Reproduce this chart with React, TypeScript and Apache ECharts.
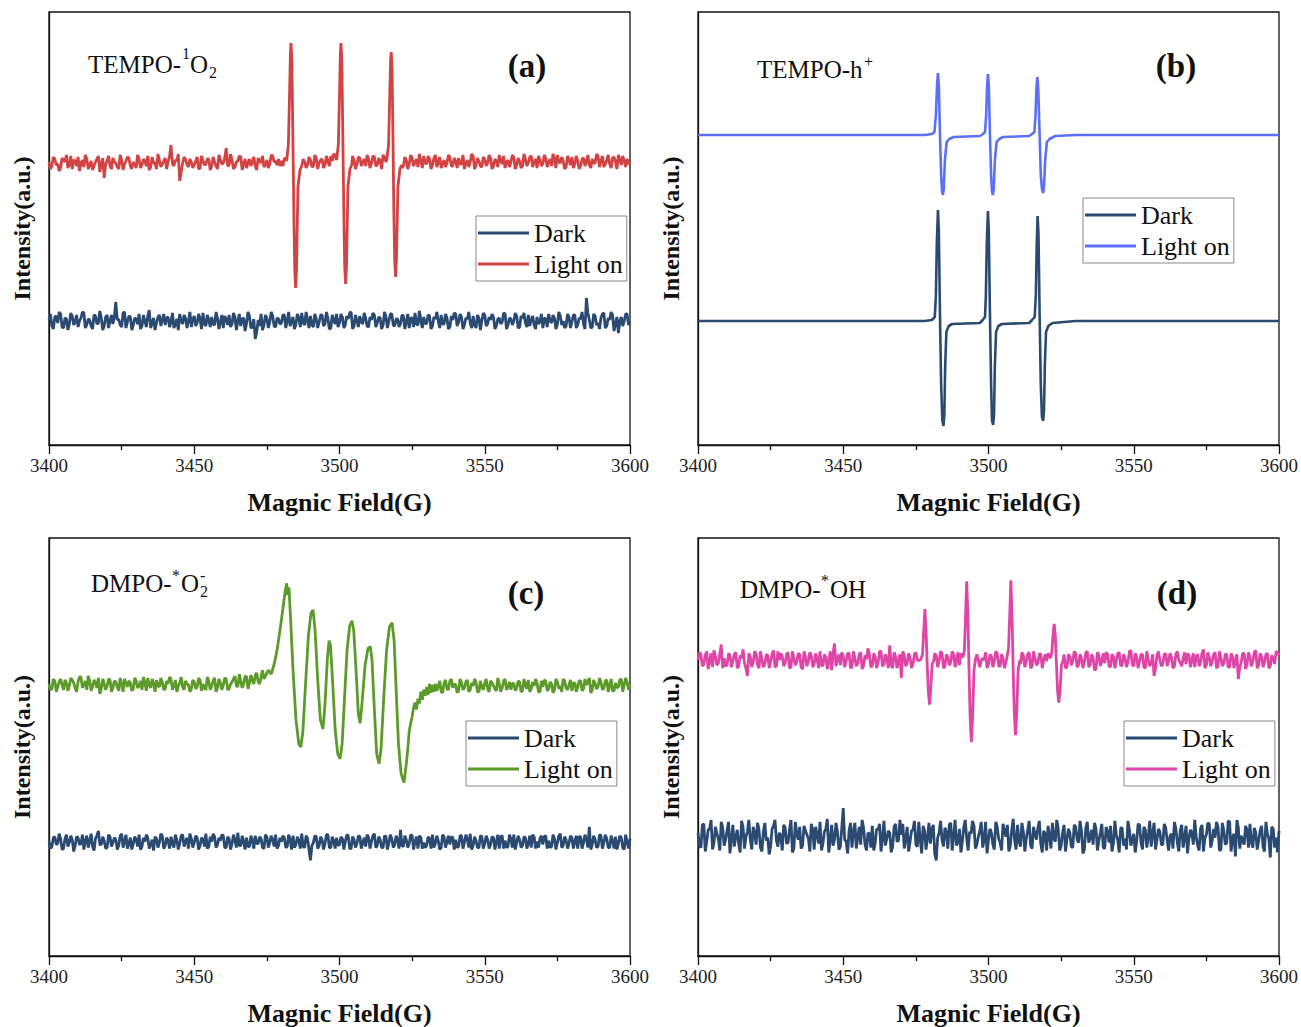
import React, { useEffect, useRef } from 'react';
import * as echarts from 'echarts';

// ---------- axis ----------
const FIELD_MIN = 3400;
const FIELD_MAX = 3600;
const FIELD_TICK = 50;
const X_NAME = 'Magnic Field(G)';
const Y_NAME = 'Intensity(a.u.)';
const LEGEND_NAMES = ['Dark', 'Light on'];
const PANEL_LABELS = ['(a)', '(b)', '(c)', '(d)'];

// ---------- panel (a) TEMPO-1O2 ----------
// noise read at whole-gauss positions from 3400
const aLightNoise = [
  283, 279, 286, 281, 277, 285, 290, 280, 276, 284,
  288, 282, 278, 286, 280, 275, 283, 289, 281, 267,
  284, 279, 287, 282, 276, 285, 281, 288, 279, 283,
  277, 286, 280, 284, 289, 278, 282, 276, 285, 281,
  287, 283, 300, 279, 284, 264, 282, 286, 278, 283,
  280, 288, 277, 284, 281, 286, 279, 283, 276, 285,
  282, 297, 280, 285, 278, 284, 288, 281, 277, 286,
  283, 279, 287, 282, 278, 285, 281, 289, 284, 286,
  284, 286, 282, 283, 282, 282, 282, 276, 283, 280,
  285, 279, 287, 282, 286, 280, 284, 289, 291, 286,
  282, 282, 282, 282, 278, 285, 281, 287, 283, 279,
  286, 282, 288, 280, 284, 290, 283, 282, 282, 282,
  282, 282, 279, 285, 281, 287, 283, 278, 284, 289,
  281, 286, 280, 290, 283, 277, 285, 282, 288, 279,
  284, 287, 281, 276, 285, 283, 289, 280, 284, 278,
  286, 282, 287, 279, 284, 290, 281, 277, 285, 283,
  288, 280, 284, 279, 286, 282, 289, 283, 277, 285,
  281, 287, 283, 279, 286, 290, 282, 284, 278, 285,
  288, 281, 284, 279, 287, 283, 280, 286, 282, 289,
  284, 278, 285, 281, 287, 283, 290, 280, 284, 286,
  283,
];
// noise read at half-gauss positions from 3400.5
const aLightNoiseHalf = [
  276, 288, 280, 274, 287, 283, 277, 289, 285, 279,
  274, 285, 290, 276, 284, 279, 286, 273, 287, 281,
  289, 276, 283, 278, 290, 275, 284, 287, 276, 281,
  290, 277, 286, 279, 275, 288, 282, 291, 278, 284,
  276, 289, 281, 285, 291, 273, 288, 280, 286, 277,
  284, 276, 289, 280, 286, 275, 288, 279, 290, 281,
  287, 279, 291, 276, 283, 289, 275, 286, 282, 279,
  288, 275, 284, 289, 280, 277, 290, 283, 280, 279,
  279, 287, 283, 283, 283, 283, 283, 286, 277, 288,
  278, 290, 276, 285, 277, 289, 279, 284, 290, 283,
  282, 282, 282, 282, 289, 276, 288, 279, 286, 290,
  277, 289, 279, 287, 276, 288, 283, 283, 283, 283,
  283, 277, 288, 276, 290, 279, 286, 291, 277, 282,
  289, 276, 287, 278, 288, 282, 278, 290, 279, 287,
  277, 281, 290, 282, 278, 291, 276, 287, 279, 288,
  279, 290, 276, 286, 278, 284, 289, 283, 278, 290,
  276, 287, 277, 291, 279, 288, 278, 286, 289, 279,
  290, 278, 286, 291, 277, 283, 288, 276, 289, 280,
  277, 289, 276, 286, 279, 290, 277, 282, 291, 278,
  289, 281, 290, 277, 288, 276, 285, 289, 278, 281,
];
const aLightPeak1: [number, number][] = [
  [3481.8, 284], [3482.4, 300], [3482.8, 350], [3483.1, 392], [3483.3, 402], [3483.6, 385],
  [3483.9, 320], [3484.3, 230], [3484.6, 175], [3484.9, 157], [3485.2, 175], [3485.7, 258],
  [3486.4, 275], [3487.0, 279],
];
const aLightPeak2: [number, number][] = [
  [3499.0, 285], [3499.6, 300], [3500.0, 350], [3500.3, 392], [3500.5, 402], [3500.8, 385],
  [3501.1, 320], [3501.5, 230], [3501.8, 178], [3502.1, 161], [3502.4, 178], [3502.9, 258],
  [3503.6, 276], [3504.2, 280],
];
const aLightPeak3: [number, number][] = [
  [3516.3, 286], [3516.9, 300], [3517.3, 350], [3517.6, 385], [3517.8, 393], [3518.1, 375],
  [3518.4, 310], [3518.7, 235], [3519.0, 185], [3519.3, 168], [3519.6, 185], [3520.1, 258],
  [3520.8, 276], [3521.4, 280],
];
const aDarkNoise = [
  125, 119, 128, 122, 131, 117, 126, 121, 129, 123,
  118, 127, 132, 120, 125, 116, 129, 122, 127, 119,
  130, 124, 121, 143, 126, 118, 133, 123, 128, 120,
  126, 131, 119, 124, 129, 117, 127, 122, 130, 125,
  120, 128, 123, 117, 126, 131, 121, 127, 124, 118,
  129, 122, 126, 132, 119, 125, 128, 120, 127, 123,
  117, 126, 130, 121, 128, 124, 119, 127, 122, 129,
  118, 106, 125, 131, 120, 127, 123, 129, 118, 126,
  122, 130, 124, 119, 128, 121, 127, 132, 120, 125,
  129, 118, 126, 123, 130, 121, 127, 117, 125, 131,
  122, 128, 120, 126, 133, 119, 124, 129, 121, 127,
  118, 125, 130, 122, 127, 120, 128, 124, 131, 119,
  126, 121, 129, 123, 117, 127, 132, 120, 125, 128,
  122, 129, 119, 126, 124, 130, 121, 127, 118, 125,
  131, 123, 128, 120, 126, 122, 129, 117, 127, 124,
  130, 121, 125, 128, 119, 127, 123, 131, 120, 126,
  124, 129, 118, 127, 122, 130, 125, 120, 128, 123,
  117, 126, 131, 122, 127, 121, 129, 124, 119, 128,
  123, 130, 120, 126, 121, 147, 125, 118, 129, 122,
  127, 132, 119, 125, 130, 121, 112, 128, 124, 131,
  123,
];
const aDarkNoiseHalf = [
  131, 116, 129, 133, 118, 127, 115, 132, 120, 130,
  124, 133, 117, 126, 119, 130, 121, 134, 115, 128,
  117, 130, 128, 125, 120, 132, 117, 129, 115, 127,
  121, 116, 130, 118, 135, 122, 115, 128, 119, 131,
  127, 118, 132, 121, 115, 124, 130, 117, 133, 126,
  119, 131, 116, 121, 130, 118, 121, 133, 116, 130,
  129, 120, 118, 132, 115, 131, 126, 114, 133, 117,
  126, 113, 119, 115, 130, 117, 133, 119, 127, 121,
  130, 117, 133, 124, 116, 131, 118, 122, 133, 117,
  120, 131, 117, 130, 119, 133, 116, 130, 121, 118,
  131, 117, 129, 132, 116, 130, 118, 123, 132, 119,
  128, 132, 118, 128, 116, 133, 117, 131, 120, 126,
  118, 130, 116, 131, 127, 118, 121, 134, 117, 121,
  130, 116, 128, 133, 117, 121, 131, 116, 129, 132,
  119, 131, 116, 127, 133, 117, 120, 130, 115, 132,
  119, 128, 131, 116, 126, 121, 132, 116, 127, 120,
  132, 117, 129, 132, 118, 119, 129, 116, 121, 131,
  127, 118, 124, 130, 116, 133, 120, 117, 131, 117,
  130, 117, 127, 133, 116, 132, 117, 131, 120, 116,
  131, 117, 127, 133, 114, 128, 124, 119, 131, 120,
];

// ---------- panel (b) TEMPO-h+ : clean spectra ----------
const bLight: [number, number][] = [
  [3400, 310], [3478, 310], [3480.5, 311], [3481.4, 313], [3481.9, 330], [3482.3, 360],
  [3482.6, 372], [3482.9, 360], [3483.3, 310], [3483.7, 270], [3484.0, 254], [3484.3, 250],
  [3484.6, 256], [3485.0, 285], [3485.6, 303], [3486.5, 306], [3488, 308], [3497, 309],
  [3498.1, 311], [3498.8, 313], [3499.2, 330], [3499.5, 358], [3499.8, 371], [3500.1, 360],
  [3500.5, 310], [3500.9, 270], [3501.2, 254], [3501.5, 250], [3501.8, 256], [3502.2, 285],
  [3502.8, 303], [3503.7, 306], [3505, 308], [3514, 309], [3515, 311], [3515.8, 313],
  [3516.2, 330], [3516.5, 356], [3516.8, 368], [3517.1, 358], [3517.6, 310], [3518.0, 270],
  [3518.4, 256], [3518.8, 252], [3519.1, 258], [3519.5, 285], [3520.1, 303], [3521, 306],
  [3523, 309], [3530, 310], [3600, 310],
];
const bDark: [number, number][] = [
  [3400, 124], [3478, 124], [3480.5, 125], [3481.5, 128], [3481.9, 150], [3482.2, 200],
  [3482.6, 235], [3482.9, 215], [3483.3, 130], [3483.7, 60], [3484.1, 25], [3484.5, 19],
  [3484.8, 30], [3485.1, 80], [3485.5, 113], [3486.3, 119], [3487.5, 121], [3497, 122],
  [3498, 125], [3498.8, 128], [3499.1, 150], [3499.4, 200], [3499.8, 234], [3500.1, 215],
  [3500.5, 130], [3500.9, 60], [3501.2, 25], [3501.6, 20], [3501.9, 30], [3502.2, 80],
  [3502.6, 113], [3503.4, 119], [3504.6, 121], [3514, 122], [3515, 125], [3515.9, 128],
  [3516.3, 150], [3516.6, 200], [3516.9, 229], [3517.2, 212], [3517.6, 130], [3518.0, 60],
  [3518.4, 28], [3518.8, 24], [3519.1, 34], [3519.4, 80], [3519.8, 113], [3520.6, 119],
  [3522, 122], [3530, 124], [3600, 124],
];

// ---------- panel (c) DMPO-*O2- ----------
const cLightNoiseLeft = [ // 3400 .. 3474
  276, 271, 279, 273, 281, 270, 277, 274, 280, 272,
  278, 283, 275, 270, 279, 273, 277, 282, 271, 276,
  274, 280, 272, 278, 269, 276, 281, 273, 277, 271,
  279, 274, 270, 277, 282, 272, 276, 280, 273, 278,
  271, 276, 281, 274, 268, 277, 273, 279, 275, 271,
  278, 273, 280, 276, 270, 279, 274, 282, 272, 277,
  275, 281, 271, 278, 284, 273, 279, 276, 283, 277,
  280, 285, 278, 283, 281,
];
const cLightNoiseLeftHalf = [ // 3400.5 .. 3474.5
  270, 281, 268, 278, 275, 280, 269, 282, 277, 268,
  283, 272, 279, 284, 269, 280, 272, 266, 281, 270,
  281, 268, 279, 273, 282, 268, 277, 279, 269, 282,
  272, 279, 283, 269, 275, 281, 268, 274, 282, 270,
  279, 283, 270, 280, 274, 283, 270, 276, 268, 280,
  271, 282, 269, 272, 283, 270, 279, 268, 281, 270,
  282, 270, 276, 281, 274, 286, 272, 284, 271, 285,
  276, 287, 276, 290, 284,
];
const cLightSignal: [number, number][] = [
  [3475.5, 290], [3476.5, 286], [3477.5, 296], [3478.5, 310], [3479.5, 330], [3480.5, 352],
  [3481.3, 370], [3481.8, 378], [3482.2, 366], [3482.6, 374], [3483.2, 340], [3484, 290],
  [3485, 240], [3486, 215], [3486.7, 212], [3487.4, 228], [3488.3, 275], [3489.3, 325],
  [3490.2, 348], [3490.9, 351], [3491.6, 330], [3492.5, 280], [3493.4, 240], [3494.3, 230],
  [3495.0, 255], [3495.8, 300], [3496.4, 320], [3496.9, 315], [3497.6, 280], [3498.5, 230],
  [3499.4, 205], [3500.2, 200], [3500.9, 215], [3501.7, 260], [3502.6, 310], [3503.5, 335],
  [3504.3, 340], [3504.9, 330], [3505.7, 290], [3506.5, 245], [3507.1, 236], [3507.8, 258],
  [3508.8, 295], [3509.8, 312], [3510.6, 314], [3511.2, 300], [3512.0, 250], [3512.8, 205],
  [3513.6, 195], [3514.3, 210], [3515.2, 260], [3516.2, 310], [3517.2, 334], [3518.1, 338],
  [3518.8, 320], [3519.5, 270], [3520.3, 215], [3521.2, 185], [3522.2, 176], [3523, 195],
  [3523.5, 210], [3524, 228], [3524.5, 236], [3525, 243], [3525.5, 252], [3526, 257],
  [3526.5, 250], [3527, 261], [3527.5, 256], [3528, 268], [3528.5, 260], [3529, 270],
  [3529.5, 264], [3530, 273], [3530.5, 265], [3531, 276], [3531.5, 267], [3532, 275],
  [3532.5, 268], [3533, 276], [3533.5, 269],
];
const cLightNoiseRight = [ // 3534 .. 3600
  274, 268, 277, 271, 279, 272,
  275, 269, 277, 272, 280, 270, 274, 278, 268, 273,
  277, 271, 279, 274, 269, 276, 272, 281, 273, 270,
  276, 272, 278, 269, 275, 280, 271, 274, 277, 268,
  273, 279, 271, 276, 270, 278, 274, 281, 272, 275,
  269, 277, 273, 279, 271, 275, 282, 270, 276, 273,
  278, 272, 280, 274, 269, 277, 273, 281, 275, 278,
  276,
];
const cLightNoiseRightHalf = [ // 3534.5 .. 3599.5
  279, 267, 280, 270, 281, 276,
  267, 281, 270, 278, 268, 277, 281, 268, 279, 270,
  281, 268, 277, 271, 282, 268, 279, 270, 278, 277,
  269, 279, 268, 281, 271, 268, 278, 281, 268, 279,
  280, 269, 278, 267, 281, 271, 268, 279, 270, 280,
  277, 268, 279, 269, 281, 278, 267, 280, 271, 282,
  270, 279, 268, 281, 269, 272, 280, 268, 282, 270,
];
const cDarkNoise = [
  117, 111, 121, 114, 119, 109, 123, 115, 118, 112,
  120, 114, 108, 122, 116, 111, 119, 127, 113, 117,
  110, 121, 115, 118, 112, 124, 116, 109, 120, 114,
  118, 123, 111, 116, 120, 113, 107, 119, 115, 122,
  112, 117, 121, 110, 118, 114, 123, 116, 109, 119,
  115, 120, 112, 118, 124, 111, 116, 121, 113, 117,
  122, 110, 119, 114, 118, 125, 112, 116, 120, 111,
  117, 122, 114, 119, 109, 121, 115, 118, 123, 112,
  116, 120, 111, 118, 122, 113, 117, 124, 110, 119,
  97, 115, 121, 112, 118, 114, 123, 110, 117, 120,
  113, 119, 116, 122, 109, 118, 114, 121, 115, 111,
  120, 116, 124, 112, 118, 110, 121, 115, 119, 113,
  117, 128, 111, 118, 114, 122, 116, 109, 120, 115,
  112, 119, 123, 114, 117, 110, 121, 116, 113, 120,
  118, 111, 122, 115, 119, 124, 112, 117, 110, 121,
  114, 118, 113, 120, 116, 109, 122, 117, 111, 119,
  123, 115, 118, 112, 120, 114, 110, 121, 116, 119,
  113, 122, 117, 111, 119, 115, 124, 112, 118, 114,
  120, 116, 109, 121, 115, 119, 131, 113, 118, 111,
  122, 115, 119, 110, 117, 121, 114, 120, 108, 116,
  119,
];
const cDarkNoiseHalf = [
  109, 120, 113, 124, 108, 119, 111, 122, 106, 121,
  113, 123, 117, 110, 124, 107, 122, 113, 121, 109,
  123, 111, 120, 108, 122, 110, 123, 114, 108, 121,
  111, 108, 120, 123, 109, 118, 121, 110, 124, 109,
  120, 109, 114, 123, 108, 122, 111, 120, 124, 110,
  122, 108, 120, 111, 109, 121, 124, 110, 120, 123,
  110, 121, 108, 123, 110, 112, 122, 108, 111, 122,
  109, 114, 121, 110, 123, 110, 122, 111, 109, 120,
  122, 110, 123, 108, 110, 121, 109, 111, 122, 108,
  112, 122, 109, 121, 108, 123, 110, 121, 109, 112,
  121, 108, 123, 109, 121, 110, 122, 109, 120, 123,
  109, 122, 110, 121, 110, 122, 108, 123, 110, 122,
  109, 112, 122, 110, 123, 108, 121, 122, 109, 110,
  121, 109, 110, 122, 108, 123, 110, 122, 121, 108,
  110, 122, 109, 123, 110, 108, 121, 110, 122, 109,
  122, 109, 121, 108, 123, 121, 109, 110, 123, 110,
  108, 122, 110, 121, 109, 122, 123, 109, 110, 122,
  121, 109, 110, 123, 108, 122, 110, 121, 109, 122,
  109, 122, 121, 109, 123, 110, 108, 122, 110, 123,
  109, 123, 110, 122, 109, 108, 122, 110, 123, 109,
];

// ---------- panel (d) DMPO-*OH ----------
const dLightNoise = [
  300, 306, 296, 309, 299, 293, 304, 297, 316, 302,
  295, 305, 299, 308, 294, 302, 297, 284, 303, 298,
  307, 292, 301, 296, 305, 299, 310, 294, 300, 304,
  297, 308, 293, 302, 298, 306, 291, 303, 299, 305,
  296, 301, 309, 294, 303, 298, 290, 317, 300, 295,
  304, 299, 307, 293, 302, 297, 308, 295, 301, 306,
  294, 303, 298, 309, 296, 301, 315, 292, 304, 299,
  282, 305, 297, 303, 296, 308, 300, 299, 302, 298,
  301, 296, 305, 299, 307, 294, 303, 298, 306, 300,
  295, 304, 300, 299, 302, 297, 306, 293, 302, 308,
  296, 304, 299, 307, 294, 302, 298, 305, 300, 301,
  303, 296, 305, 299, 308, 294, 302, 297, 306, 300,
  299, 304, 301, 300, 303, 298, 306, 293, 304, 299,
  307, 295, 302, 298, 309, 296, 303, 291, 305, 299,
  297, 306, 293, 304, 300, 308, 295, 302, 298, 310,
  294, 303, 299, 306, 292, 301, 297, 284, 305, 300,
  296, 307, 299, 303, 294, 309, 298, 302, 296, 305,
  300, 293, 306, 298, 311, 295, 303, 299, 308, 294,
  302, 297, 306, 293, 304, 300, 281, 298, 307, 296,
  303, 299, 310, 295, 304, 298, 307, 294, 302, 309,
  305,
];
const dLightNoiseHalf = [
  308, 294, 305, 291, 307, 310, 295, 306, 292, 294,
  307, 293, 306, 292, 305, 311, 292, 307, 293, 309,
  295, 309, 293, 306, 292, 306, 293, 309, 307, 294,
  306, 292, 309, 295, 307, 293, 309, 294, 308, 293,
  307, 292, 295, 306, 291, 309, 307, 294, 306, 308,
  293, 307, 292, 309, 294, 306, 291, 305, 312, 293,
  307, 292, 309, 294, 306, 292, 295, 308, 292, 306,
  309, 294, 307, 292, 306, 300, 300, 300, 300, 300,
  300, 307, 293, 309, 292, 306, 295, 309, 293, 308,
  307, 292, 306, 293, 300, 300, 300, 300, 300, 292,
  306, 293, 309, 294, 306, 292, 300, 300, 300, 300,
  294, 308, 293, 306, 292, 309, 295, 307, 292, 306,
  307, 300, 300, 300, 300, 300, 292, 306, 295, 309,
  293, 306, 292, 308, 293, 306, 290, 308, 294, 307,
  308, 294, 306, 292, 307, 294, 306, 293, 309, 295,
  307, 292, 306, 293, 309, 294, 306, 292, 309, 294,
  306, 294, 307, 292, 306, 300, 294, 308, 307, 293,
  307, 304, 294, 307, 292, 308, 294, 306, 292, 309,
  294, 306, 293, 307, 292, 306, 293, 307, 291, 308,
  294, 308, 292, 307, 293, 306, 292, 305, 296, 308,
];
const dLightPeak1: [number, number][] = [
  [3476.8, 302], [3477.3, 306], [3477.7, 330], [3478.1, 352], [3478.5, 330], [3478.9, 295],
  [3479.3, 268], [3479.7, 255], [3480.1, 270], [3480.6, 296], [3481.2, 300],
];
const dLightPeak2: [number, number][] = [
  [3491.2, 303], [3491.7, 310], [3492.1, 345], [3492.5, 380], [3492.9, 345], [3493.3, 290],
  [3493.7, 240], [3494.1, 217], [3494.5, 240], [3495.0, 290], [3495.6, 302],
];
const dLightPeak3: [number, number][] = [
  [3506.4, 304], [3506.9, 312], [3507.3, 345], [3507.7, 381], [3508.1, 345], [3508.5, 290],
  [3508.9, 245], [3509.3, 224], [3509.7, 245], [3510.2, 290], [3510.8, 300],
];
const dLightPeak4: [number, number][] = [
  [3521.3, 302], [3521.8, 308], [3522.2, 325], [3522.6, 337], [3523.0, 325], [3523.4, 295],
  [3523.8, 268], [3524.2, 257], [3524.6, 268], [3525.1, 295], [3525.7, 300],
];
const dDarkNoise = [
  125, 110, 134, 116, 129, 108, 131, 119, 136, 112,
  127, 104, 133, 121, 114, 137, 109, 126, 118, 131,
  113, 128, 106, 135, 120, 111, 132, 117, 125, 107,
  130, 115, 138, 109, 124, 131, 112, 127, 119, 134,
  108, 123, 136, 114, 129, 105, 133, 118, 126, 111,
  150, 116, 127, 110, 135, 121, 113, 130, 107, 124,
  132, 115, 128, 106, 137, 119, 125, 111, 134, 117,
  123, 109, 131, 116, 128, 113, 136, 104, 127, 120,
  114, 133, 97, 125, 118, 130, 109, 135, 121, 112,
  129, 116, 138, 107, 124, 132, 113, 127, 110, 136,
  118, 125, 108, 131, 115, 134, 121, 106, 128, 117,
  133, 111, 126, 119, 137, 109, 124, 130, 114, 127,
  107, 122, 135, 116, 129, 112, 133, 118, 125, 110,
  131, 115, 127, 108, 136, 120, 113, 129, 117, 134,
  109, 126, 132, 114, 123, 105, 130, 119, 137, 112,
  124, 116, 133, 108, 128, 121, 111, 135, 118, 126,
  113, 130, 107, 124, 136, 115, 127, 110, 132, 119,
  125, 138, 112, 129, 106, 123, 134, 117, 120, 131,
  108, 127, 115, 136, 119, 101, 130, 122, 113, 128,
  134, 110, 125, 117, 132, 106, 124, 100, 129, 120,
  127,
];
const dDarkNoiseHalf = [
  112, 133, 106, 128, 138, 115, 124, 107, 130, 118,
  136, 119, 111, 128, 105, 131, 121, 138, 108, 125,
  135, 110, 126, 117, 103, 129, 138, 111, 122, 133,
  114, 128, 105, 136, 118, 109, 132, 123, 106, 128,
  131, 114, 107, 126, 139, 117, 112, 135, 108, 130,
  118, 104, 135, 126, 109, 131, 138, 113, 125, 110,
  107, 129, 134, 119, 112, 127, 105, 131, 116, 138,
  134, 118, 106, 127, 137, 111, 118, 132, 108, 135,
  129, 104, 120, 137, 111, 126, 133, 107, 138, 116,
  105, 131, 119, 126, 137, 109, 121, 136, 118, 104,
  129, 113, 136, 119, 107, 127, 133, 112, 139, 108,
  116, 135, 106, 128, 112, 131, 118, 137, 105, 124,
  132, 109, 119, 138, 107, 125, 106, 129, 111, 133,
  118, 137, 104, 130, 115, 128, 135, 107, 125, 110,
  131, 115, 106, 137, 117, 130, 112, 108, 128, 118,
  105, 134, 115, 131, 110, 137, 124, 108, 129, 113,
  134, 117, 122, 109, 129, 106, 133, 120, 104, 128,
  113, 121, 107, 133, 120, 135, 110, 129, 136, 107,
  135, 113, 137, 106, 124, 138, 109, 117, 132, 110,
  115, 130, 108, 127, 111, 136, 119, 131, 110, 105,
];

// ---------- colours ----------
const DARK_COLOR = '#2a4a72';
const LIGHT_COLORS = ['#d34343', '#5b70f8', '#5c9a2a', '#de45a6'];

// ---------- helpers ----------
type Pt = [number, number];
const fromStart = (start: number, values: number[]): Pt[] => values.map((v, i) => [start + i, v]);
const interleave = (start: number, whole: number[], half: number[]): Pt[] =>
  [...fromStart(start, whole), ...fromStart(start + 0.5, half)].sort((a, b) => a[0] - b[0]);
const mergeSignal = (noise: Pt[], peaks: Pt[][]): Pt[] => {
  const kept = noise.filter(([x]) => !peaks.some((p) => x >= p[0][0] && x <= p[p.length - 1][0]));
  return [...kept, ...peaks.flat()].sort((a, b) => a[0] - b[0]);
};

const SERIF = '"Liberation Serif", "Times New Roman", serif';

export default function App() {
  const ref = useRef<HTMLDivElement>(null);
  useEffect(() => {
    if (!ref.current) return;
    const chart = echarts.init(ref.current, undefined, { renderer: 'svg' });

    const panelData: { dark: Pt[]; light: Pt[] }[] = [
      {
        dark: interleave(FIELD_MIN, aDarkNoise, aDarkNoiseHalf),
        light: mergeSignal(interleave(FIELD_MIN, aLightNoise, aLightNoiseHalf), [aLightPeak1, aLightPeak2, aLightPeak3]),
      },
      { dark: bDark, light: bLight },
      {
        dark: interleave(FIELD_MIN, cDarkNoise, cDarkNoiseHalf),
        light: [
          ...interleave(FIELD_MIN, cLightNoiseLeft, cLightNoiseLeftHalf),
          ...cLightSignal,
          ...interleave(3534, cLightNoiseRight, cLightNoiseRightHalf),
        ],
      },
      {
        dark: interleave(FIELD_MIN, dDarkNoise, dDarkNoiseHalf),
        light: mergeSignal(interleave(FIELD_MIN, dLightNoise, dLightNoiseHalf), [dLightPeak1, dLightPeak2, dLightPeak3, dLightPeak4]),
      },
    ];

    const grids = [
      { left: 49, top: 12, width: 581, height: 433 },
      { left: 698, top: 12, width: 581, height: 433 },
      { left: 49, top: 538, width: 581, height: 424 },
      { left: 698, top: 538, width: 581, height: 424 },
    ];
    const yMax = [433, 433, 424, 424];
    const legendPos = [
      { left: 476, top: 216 },
      { left: 1083, top: 198 },
      { left: 466, top: 721 },
      { left: 1124, top: 721 },
    ];
    const labelPos = [
      [527, 66],
      [1176, 66],
      [526, 593],
      [1177, 593],
    ];
    const keys = ['a', 'b', 'c', 'd'];

    const series: any[] = [];
    panelData.forEach((p, i) => {
      const noisy = i !== 1;
      series.push({
        name: `${keys[i]}:${LEGEND_NAMES[0]}`,
        type: 'line',
        xAxisIndex: i,
        yAxisIndex: i,
        data: p.dark,
        symbol: 'none',
        color: DARK_COLOR,
        lineStyle: { width: noisy ? 2.8 : 2.6, color: DARK_COLOR },
      });
      series.push({
        name: `${keys[i]}:${LEGEND_NAMES[1]}`,
        type: 'line',
        xAxisIndex: i,
        yAxisIndex: i,
        data: p.light,
        symbol: 'none',
        color: LIGHT_COLORS[i],
        lineStyle: { width: noisy ? 2.8 : 2.6, color: LIGHT_COLORS[i] },
      });
    });

    const txt = (x: number, y: number, text: string, size: number, bold = false, align = 'left') => ({
      type: 'text',
      x,
      y,
      silent: true,
      style: {
        text,
        font: `${bold ? 'bold ' : ''}${size}px ${SERIF}`,
        fill: '#111',
        align,
        verticalAlign: 'middle',
      },
    });

    const graphic: any[] = [
      // (a) TEMPO-1O2
      txt(88, 64, 'TEMPO-', 25),
      txt(182, 53, '1', 16),
      txt(190, 64, 'O', 25),
      txt(209, 72, '2', 16),
      // (b) TEMPO-h+
      txt(757, 69, 'TEMPO-h', 25),
      txt(864, 61, '+', 16),
      // (c) DMPO-*O2-
      txt(91, 583, 'DMPO-', 25),
      txt(172, 575, '*', 16),
      txt(181, 583, 'O', 25),
      txt(200, 575, '-', 16),
      txt(200, 591, '2', 16),
      // (d) DMPO-*OH
      txt(740, 589, 'DMPO-', 25),
      txt(821, 580, '*', 16),
      txt(830, 589, 'OH', 25),
    ];
    PANEL_LABELS.forEach((l, i) => graphic.push(txt(labelPos[i][0], labelPos[i][1], l, 33, true, 'center')));

    chart.setOption({
      animation: false,
      backgroundColor: '#ffffff',
      grid: grids.map((g) => ({ ...g, show: true, borderColor: '#111', borderWidth: 1.3, backgroundColor: 'transparent' })),
      xAxis: grids.map((_, i) => ({
        type: 'value',
        gridIndex: i,
        min: FIELD_MIN,
        max: FIELD_MAX,
        interval: FIELD_TICK,
        name: X_NAME,
        nameLocation: 'middle',
        nameGap: 44,
        nameTextStyle: { fontFamily: SERIF, fontSize: 26, fontWeight: 'bold', color: '#111' },
        axisLine: { show: true, lineStyle: { color: '#111', width: 1.3 } },
        axisTick: { show: true, length: 9, lineStyle: { color: '#111', width: 1.3 } },
        minorTick: { show: true, splitNumber: 2, length: 5, lineStyle: { color: '#111', width: 1.3 } },
        axisLabel: { fontFamily: SERIF, fontSize: 19, color: '#222', margin: 11, formatter: (v: number) => String(v) },
        splitLine: { show: false },
      })),
      yAxis: grids.map((_, i) => ({
        type: 'value',
        gridIndex: i,
        min: 0,
        max: yMax[i],
        name: Y_NAME,
        nameLocation: 'middle',
        nameGap: 15,
        nameTextStyle: { fontFamily: SERIF, fontSize: 24, fontWeight: 'bold', color: '#111' },
        axisLine: { show: true, lineStyle: { color: '#111', width: 1.3 } },
        axisTick: { show: false },
        axisLabel: { show: false },
        splitLine: { show: false },
      })),
      legend: legendPos.map((pos, i) => ({
        ...pos,
        orient: 'vertical',
        data: LEGEND_NAMES.map((n) => `${keys[i]}:${n}`),
        formatter: (name: string) => name.slice(2),
        icon: 'rect',
        itemWidth: 51,
        itemHeight: 3,
        itemGap: 5,
        padding: [4, 4, 4, 2],
        borderColor: '#888',
        borderWidth: 1,
        selectedMode: false,
        textStyle: { fontFamily: SERIF, fontSize: 26, color: '#111' },
      })),
      series,
      graphic,
    });
    return () => chart.dispose();
  }, []);

  return <div ref={ref} style={{ position: 'absolute', left: 0, top: 0, width: 1301, height: 1027 }} />;
}
